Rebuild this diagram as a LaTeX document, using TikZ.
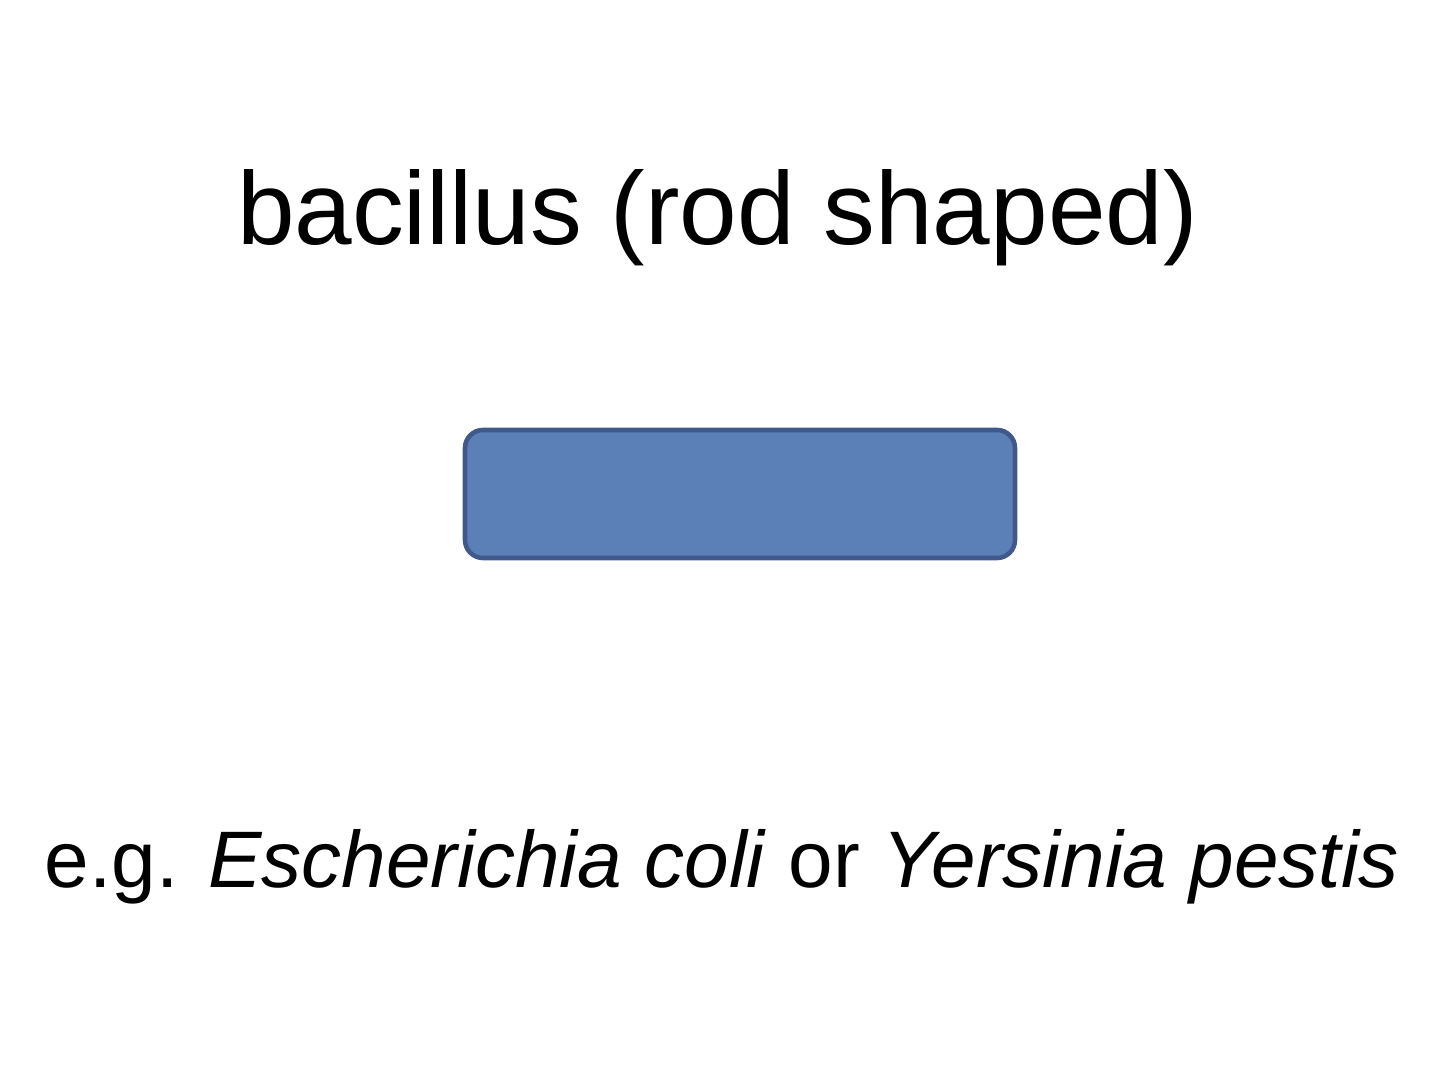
\documentclass[tikz,border=0pt]{standalone}
\usepackage{fontspec}
\setmainfont{Liberation Sans}
\usepackage{tikz}

\definecolor{rodfill}{HTML}{5B80B8}
\definecolor{rodline}{HTML}{41598A}

\begin{document}
\begin{tikzpicture}[x=1cm, y=1cm]
    \useasboundingbox (0,0) rectangle (28.8,21.36);

    \node[anchor=base, inner sep=0pt, font=\fontsize{58.9}{61}\selectfont] (title) at (14.35,16.46) {bacillus (rod shaped)};

    \node[draw=rodline, fill=rodfill, line width=2.6pt, rounded corners=0.36cm,
          minimum width=11cm, minimum height=2.56cm, inner sep=0pt] (rod) at (14.8,11.48) {};

    \node[anchor=base, inner sep=0pt, font=\fontsize{45.6}{48}\selectfont] (example) at (14.44,3.6) {
        e.g. \textit{Escherichia coli} or \textit{Yersinia pestis}
    };
\end{tikzpicture}
\end{document}
